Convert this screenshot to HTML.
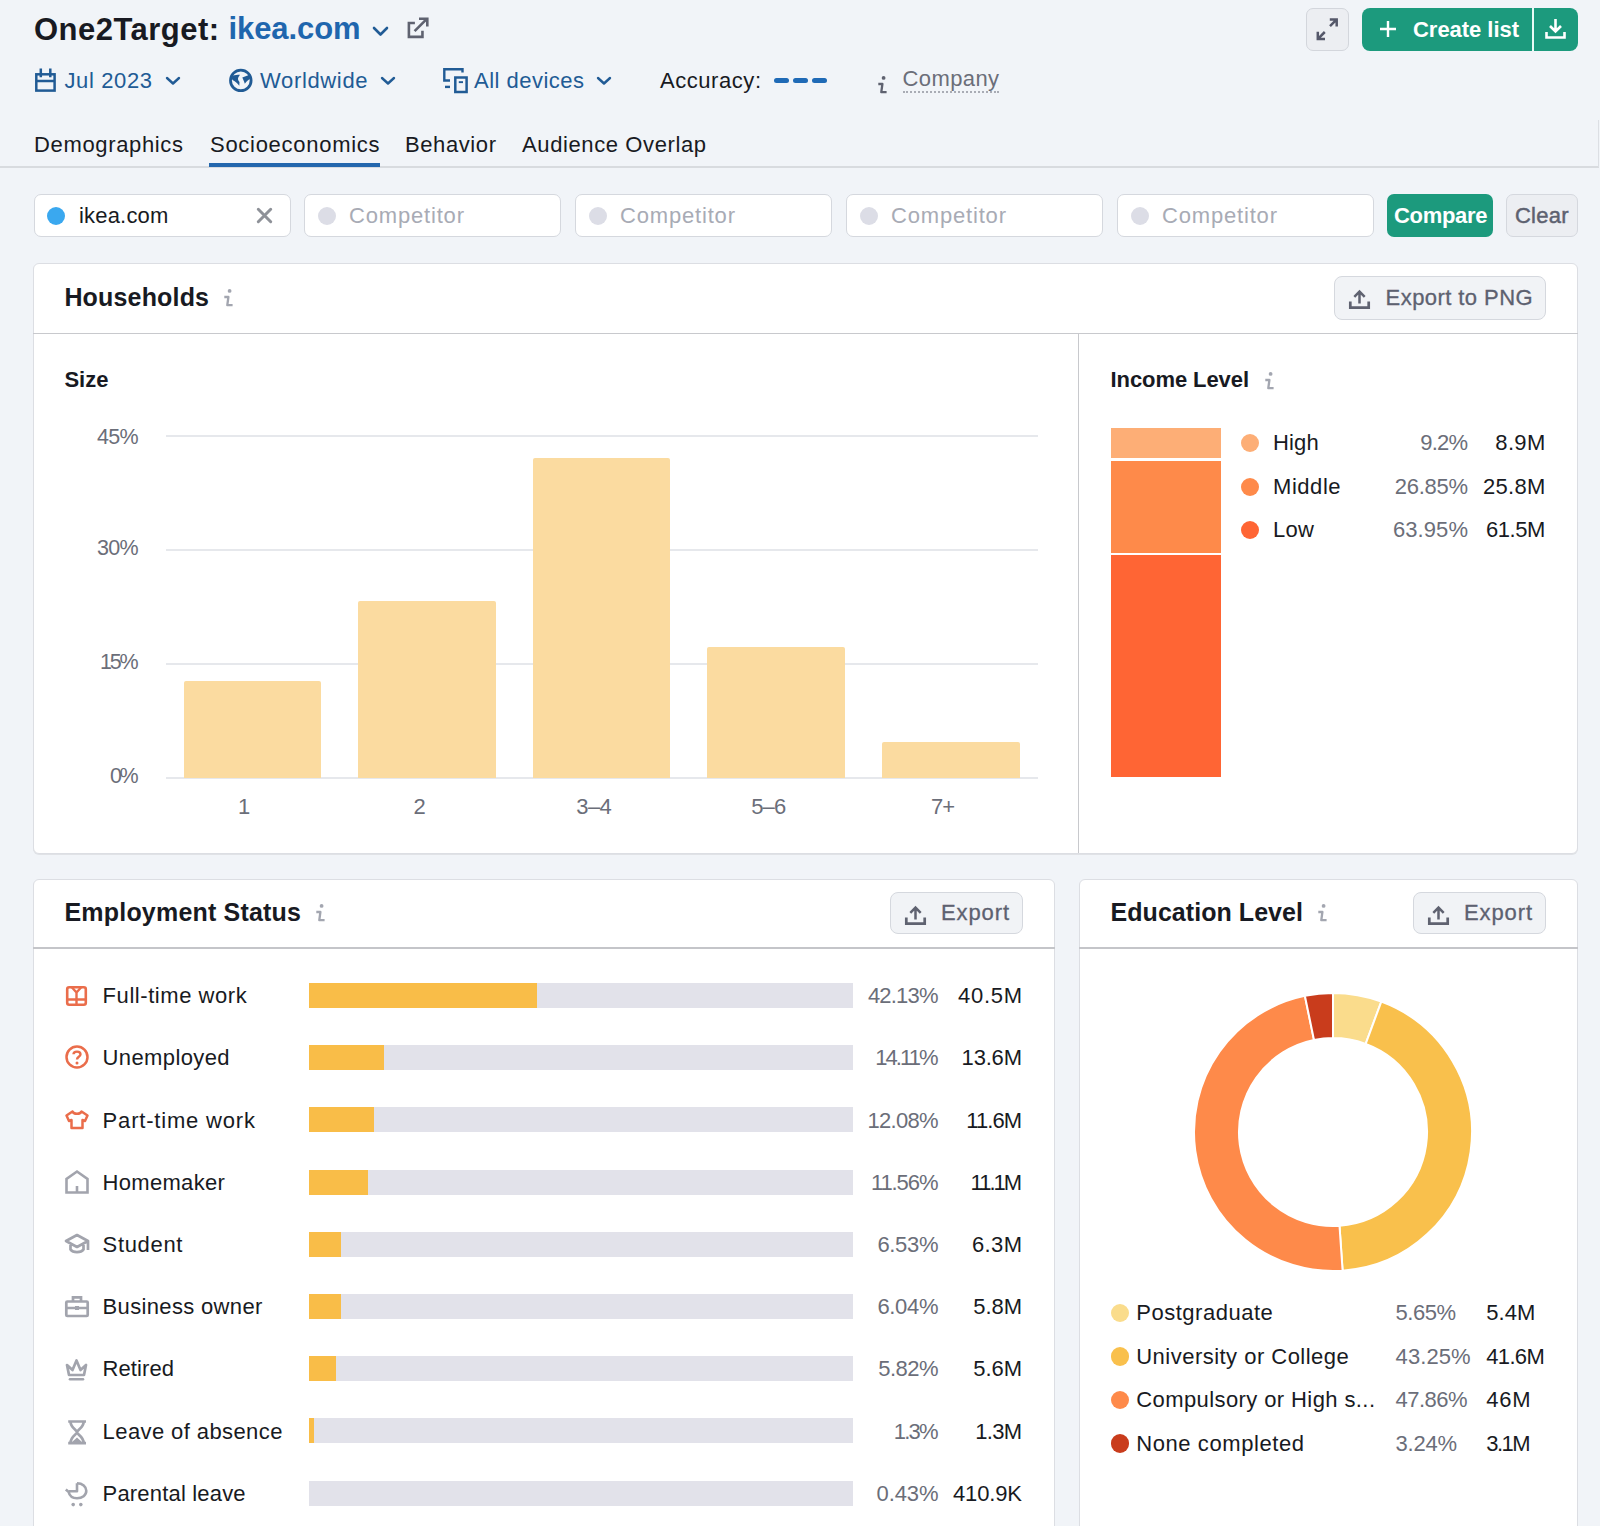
<!DOCTYPE html>
<html><head><meta charset="utf-8"><style>
html,body{margin:0;padding:0;}
body{width:1600px;height:1526px;overflow:hidden;background:#f1f4f8;position:relative;font-family:"Liberation Sans",sans-serif;}
.t{position:absolute;white-space:nowrap;line-height:1;}
.a{position:absolute;box-sizing:border-box;}
svg.a{overflow:visible;}
</style></head><body>
<div class="t" style="left:34.00px;top:13.75px;font-size:31px;color:#181a22;font-weight:700;letter-spacing:0.470px;">One2Target:</div>
<div class="t" style="left:228.50px;top:13.25px;font-size:31px;color:#1f66ae;font-weight:700;letter-spacing:-0.083px;">ikea.com</div>
<svg class="a" style="left:372px;top:26px;" width="17" height="11" viewBox="0 0 17 11"><path d="M2 2 L8.5 8.5 L15 2" fill="none" stroke="#215b95" stroke-width="2.6" stroke-linecap="round" stroke-linejoin="round"/></svg>
<svg class="a" style="left:407px;top:16px;" width="22" height="23" viewBox="0 0 22 23"><path d="M7.9 7 H1.9 V20.85 H15.45 V14.8" fill="none" stroke="#5f6270" stroke-width="2.6"/><path d="M7.6 15.2 L19.6 3.2 M12 2.7 H20.3 V10.6" fill="none" stroke="#5f6270" stroke-width="2.6"/></svg>
<div class="a" style="left:1306px;top:8px;width:43px;height:43px;border:1px solid #d3d6dc;border-radius:7px;background:#eceef2;"></div>
<svg class="a" style="left:1316px;top:18px;" width="23" height="23" viewBox="0 0 23 23"><path d="M14 8.2 L20.5 1.7 M13.8 1.5 H20.7 V8.5 M8.8 14 L2 20.8 M1.8 13.8 V21 H9" fill="none" stroke="#55586a" stroke-width="2.5"/></svg>
<div class="a" style="left:1362px;top:8px;width:216px;height:43px;border-radius:8px;background:#1c9a7d;"></div>
<div class="a" style="left:1532px;top:8px;width:2px;height:43px;background:#e8fbf5;"></div>
<svg class="a" style="left:1379px;top:20px;" width="18" height="18" viewBox="0 0 18 18"><path d="M9 1 V17 M1 9 H17" stroke="#fff" stroke-width="2.4"/></svg>
<div class="t" style="left:1413.00px;top:18.87px;font-size:22px;color:#ffffff;font-weight:700;letter-spacing:-0.037px;">Create list</div>
<svg class="a" style="left:1544px;top:17px;" width="23" height="23" viewBox="0 0 23 23"><path d="M11.5 2 V14 M6 9 L11.5 14.5 L17 9" fill="none" stroke="#fff" stroke-width="2.6"/><path d="M2.5 15 V20.5 H20.5 V15" fill="none" stroke="#fff" stroke-width="2.6"/></svg>
<svg class="a" style="left:34px;top:68px;" width="23" height="24" viewBox="0 0 23 24"><rect x="2.3" y="6.3" width="18.3" height="16.3" fill="none" stroke="#215b95" stroke-width="2.5"/><path d="M2.3 13 H20.6 M6.8 0.5 V9.3 M16.3 0.5 V9.3" stroke="#215b95" stroke-width="2.5"/></svg>
<div class="t" style="left:64.50px;top:70.17px;font-size:22px;color:#215b95;letter-spacing:0.617px;">Jul 2023</div>
<svg class="a" style="left:165px;top:76px;" width="16" height="9" viewBox="0 0 16 9"><path d="M2 2 L8 7.5 L14 2" fill="none" stroke="#215b95" stroke-width="2.4" stroke-linecap="round" stroke-linejoin="round"/></svg>
<svg class="a" style="left:229px;top:68px;" width="24" height="25" viewBox="0 0 24 25"><circle cx="11.8" cy="12.4" r="10.3" fill="none" stroke="#215b95" stroke-width="2.8"/><path d="M2 8.5 C4.5 7 8 6.3 11 6.8 L9.5 9 C8.5 10.5 9 12.5 10.5 14 L10.3 17.8 C8 15 6 13 3.5 12 Z" fill="#215b95"/><path d="M13.3 9.5 L21.2 6.5 L21.8 10 C20 12 17.5 13 15.8 15.8 C15 13 14 11 13.3 9.5 Z" fill="#215b95"/></svg>
<div class="t" style="left:260.00px;top:70.17px;font-size:22px;color:#215b95;letter-spacing:0.650px;">Worldwide</div>
<svg class="a" style="left:380px;top:76px;" width="16" height="9" viewBox="0 0 16 9"><path d="M2 2 L8 7.5 L14 2" fill="none" stroke="#215b95" stroke-width="2.4" stroke-linecap="round" stroke-linejoin="round"/></svg>
<svg class="a" style="left:443px;top:68px;" width="26" height="26" viewBox="0 0 26 26"><path d="M19.5 4.5 V1.3 H1.3 V12.5 H7" fill="none" stroke="#215b95" stroke-width="2.4"/><rect x="2" y="17.7" width="5" height="2.4" fill="#215b95"/><rect x="12.3" y="9.5" width="11.3" height="14.5" fill="none" stroke="#215b95" stroke-width="2.5"/><rect x="15.8" y="13.2" width="4.2" height="1.9" fill="#215b95"/></svg>
<div class="t" style="left:474.00px;top:70.17px;font-size:22px;color:#215b95;letter-spacing:0.484px;">All devices</div>
<svg class="a" style="left:596px;top:76px;" width="16" height="9" viewBox="0 0 16 9"><path d="M2 2 L8 7.5 L14 2" fill="none" stroke="#215b95" stroke-width="2.4" stroke-linecap="round" stroke-linejoin="round"/></svg>
<div class="t" style="left:660.00px;top:70.17px;font-size:22px;color:#181a22;letter-spacing:0.553px;">Accuracy:</div>
<div class="a" style="left:774px;top:78px;width:15px;height:5px;background:#1f6ab6;border-radius:2.5px;"></div>
<div class="a" style="left:793px;top:78px;width:15px;height:5px;background:#1f6ab6;border-radius:2.5px;"></div>
<div class="a" style="left:812px;top:78px;width:15px;height:5px;background:#1f6ab6;border-radius:2.5px;"></div>
<svg class="a" style="left:878px;top:76px;" width="10" height="19" viewBox="0 0 10 19"><g transform="scale(1.0)"><circle cx="5.6" cy="1.9" r="1.9" fill="#5f6270"/><path d="M0.3 8 H4.4 L3.3 16.2 H8.6" fill="none" stroke="#5f6270" stroke-width="2.3" stroke-linejoin="round"/></g></svg>
<div class="t" style="left:902.60px;top:67.87px;font-size:22px;color:#6b6e79;letter-spacing:0.373px;">Company</div>
<div class="a" style="left:903px;top:91px;width:96px;height:0;border-top:2px dotted #a9acb5;"></div>
<div class="t" style="left:34.00px;top:133.87px;font-size:22px;color:#181a22;letter-spacing:0.651px;">Demographics</div>
<div class="t" style="left:210.00px;top:133.87px;font-size:22px;color:#181a22;letter-spacing:0.717px;">Socioeconomics</div>
<div class="t" style="left:405.00px;top:133.87px;font-size:22px;color:#181a22;letter-spacing:0.595px;">Behavior</div>
<div class="t" style="left:522.00px;top:133.87px;font-size:22px;color:#181a22;letter-spacing:0.608px;">Audience Overlap</div>
<div class="a" style="left:0;top:166px;width:1599px;height:2px;background:#d8dbdf;"></div>
<div class="a" style="left:1598px;top:120px;width:1px;height:47px;background:#dcdfe4;"></div>
<div class="a" style="left:209px;top:163px;width:171px;height:4px;background:#2467ad;"></div>
<div class="a" style="left:34px;top:194px;width:257px;height:43px;border:1px solid #d5d8de;border-radius:7px;background:#fff;"></div>
<div class="a" style="left:47px;top:206.5px;width:18px;height:18px;border-radius:50%;background:#3aa8ef;"></div>
<div class="t" style="left:79.00px;top:204.87px;font-size:22px;color:#181a22;letter-spacing:0.183px;">ikea.com</div>
<svg class="a" style="left:256px;top:207px;" width="17" height="17" viewBox="0 0 17 17"><path d="M2.3 2.3 L14.7 14.7 M14.7 2.3 L2.3 14.7" stroke="#8e9198" stroke-width="3" stroke-linecap="round"/></svg>
<div class="a" style="left:304px;top:194px;width:257px;height:43px;border:1px solid #d5d8de;border-radius:7px;background:#fff;"></div>
<div class="a" style="left:318px;top:206.5px;width:18px;height:18px;border-radius:50%;background:#dcdde6;"></div>
<div class="t" style="left:349.00px;top:204.87px;font-size:22px;color:#a8abb5;letter-spacing:0.822px;">Competitor</div>
<div class="a" style="left:575px;top:194px;width:257px;height:43px;border:1px solid #d5d8de;border-radius:7px;background:#fff;"></div>
<div class="a" style="left:589px;top:206.5px;width:18px;height:18px;border-radius:50%;background:#dcdde6;"></div>
<div class="t" style="left:620.00px;top:204.87px;font-size:22px;color:#a8abb5;letter-spacing:0.822px;">Competitor</div>
<div class="a" style="left:846px;top:194px;width:257px;height:43px;border:1px solid #d5d8de;border-radius:7px;background:#fff;"></div>
<div class="a" style="left:860px;top:206.5px;width:18px;height:18px;border-radius:50%;background:#dcdde6;"></div>
<div class="t" style="left:891.00px;top:204.87px;font-size:22px;color:#a8abb5;letter-spacing:0.822px;">Competitor</div>
<div class="a" style="left:1117px;top:194px;width:257px;height:43px;border:1px solid #d5d8de;border-radius:7px;background:#fff;"></div>
<div class="a" style="left:1131px;top:206.5px;width:18px;height:18px;border-radius:50%;background:#dcdde6;"></div>
<div class="t" style="left:1162.00px;top:204.87px;font-size:22px;color:#a8abb5;letter-spacing:0.822px;">Competitor</div>
<div class="a" style="left:1387px;top:194px;width:106px;height:43px;border-radius:7px;background:#1c9a7d;"></div>
<div class="t" style="left:1394.00px;top:204.87px;font-size:22px;color:#ffffff;font-weight:700;letter-spacing:-0.308px;">Compare</div>
<div class="a" style="left:1506px;top:194px;width:72px;height:43px;border:1px solid #d5d8de;border-radius:7px;background:#eceef2;"></div>
<div class="t" style="left:1515.00px;top:204.87px;font-size:22px;color:#5d6170;letter-spacing:0.230px;-webkit-text-stroke:0.45px #5d6170;">Clear</div>
<div class="a" style="left:33px;top:263px;width:1545px;height:591px;border:1px solid #dcdee3;border-radius:6px;background:#fff;box-shadow:0 1px 0 rgba(0,0,0,0.07);"></div>
<div class="a" style="left:33px;top:332.75px;width:1545px;height:1.5px;background:#c8c9cd;"></div>
<div class="a" style="left:1077.75px;top:334px;width:1.5px;height:519px;background:#c8c9cd;"></div>
<div class="t" style="left:64.40px;top:284.83px;font-size:25px;color:#181a22;font-weight:700;letter-spacing:0.169px;">Households</div>
<svg class="a" style="left:224px;top:289px;" width="10" height="19" viewBox="0 0 10 19"><g transform="scale(1.0)"><circle cx="5.6" cy="1.9" r="1.9" fill="#a3a6b0"/><path d="M0.3 8 H4.4 L3.3 16.2 H8.6" fill="none" stroke="#a3a6b0" stroke-width="2.3" stroke-linejoin="round"/></g></svg>
<div class="a" style="left:1334px;top:276px;width:212px;height:44px;border:1px solid #d5d8de;border-radius:8px;background:#f1f3f6;"></div>
<svg class="a" style="left:1348px;top:288px;" width="23" height="22" viewBox="0 0 23 22"><path d="M11.5 15.5 V3.5 M6.3 8.8 L11.5 3.6 L16.7 8.8" fill="none" stroke="#5f6270" stroke-width="2.5"/><path d="M2.3 13.5 V19.6 H20.7 V13.5" fill="none" stroke="#5f6270" stroke-width="2.7"/></svg>
<div class="t" style="left:1385.60px;top:286.87px;font-size:22px;color:#5d6170;letter-spacing:0.430px;-webkit-text-stroke:0.3px #5d6170;">Export to PNG</div>
<div class="t" style="left:64.40px;top:369.37px;font-size:22px;color:#181a22;font-weight:700;letter-spacing:0.026px;">Size</div>
<div class="a" style="left:166px;top:435px;width:872px;height:2px;background:#e6e8ec;"></div>
<div class="t" style="left:97.00px;top:426.80px;font-size:21.5px;color:#6b6e79;letter-spacing:-0.761px;">45%</div>
<div class="a" style="left:166px;top:549px;width:872px;height:2px;background:#e6e8ec;"></div>
<div class="t" style="left:97.00px;top:538.10px;font-size:21.5px;color:#6b6e79;letter-spacing:-0.761px;">30%</div>
<div class="a" style="left:166px;top:663px;width:872px;height:2px;background:#e6e8ec;"></div>
<div class="t" style="left:100.00px;top:652.30px;font-size:21.5px;color:#6b6e79;letter-spacing:-2.261px;">15%</div>
<div class="a" style="left:166px;top:777px;width:872px;height:2px;background:#e6e8ec;"></div>
<div class="t" style="left:110.00px;top:766.20px;font-size:21.5px;color:#6b6e79;letter-spacing:-2.567px;">0%</div>
<div class="a" style="left:183.6px;top:681px;width:137.5px;height:97px;background:#fbdba0;border-radius:2px 2px 0 0;"></div>
<div class="a" style="left:358.0px;top:600.5px;width:137.5px;height:177.5px;background:#fbdba0;border-radius:2px 2px 0 0;"></div>
<div class="a" style="left:532.7px;top:458px;width:137.5px;height:320px;background:#fbdba0;border-radius:2px 2px 0 0;"></div>
<div class="a" style="left:707.0px;top:647px;width:137.5px;height:131px;background:#fbdba0;border-radius:2px 2px 0 0;"></div>
<div class="a" style="left:882.0px;top:742px;width:137.5px;height:36px;background:#fbdba0;border-radius:2px 2px 0 0;"></div>
<div class="t" style="left:238.08px;top:795.77px;font-size:22px;color:#6b6e79;">1</div>
<div class="t" style="left:413.38px;top:795.77px;font-size:22px;color:#6b6e79;">2</div>
<div class="t" style="left:576.15px;top:795.77px;font-size:22px;color:#6b6e79;letter-spacing:-0.498px;">3–4</div>
<div class="t" style="left:751.20px;top:795.77px;font-size:22px;color:#6b6e79;letter-spacing:-0.848px;">5–6</div>
<div class="t" style="left:931.00px;top:795.77px;font-size:22px;color:#6b6e79;letter-spacing:-1.080px;">7+</div>
<div class="t" style="left:1110.60px;top:369.37px;font-size:22px;color:#181a22;font-weight:700;letter-spacing:-0.090px;">Income Level</div>
<svg class="a" style="left:1265px;top:372px;" width="10" height="19" viewBox="0 0 10 19"><g transform="scale(1.0)"><circle cx="5.6" cy="1.9" r="1.9" fill="#a3a6b0"/><path d="M0.3 8 H4.4 L3.3 16.2 H8.6" fill="none" stroke="#a3a6b0" stroke-width="2.3" stroke-linejoin="round"/></g></svg>
<div class="a" style="left:1111px;top:428px;width:110px;height:30px;background:#fdae76;"></div>
<div class="a" style="left:1111px;top:461px;width:110px;height:92px;background:#fe8a4a;"></div>
<div class="a" style="left:1111px;top:555px;width:110px;height:222px;background:#ff6534;"></div>
<div class="a" style="left:1241px;top:434.0px;width:18px;height:18px;border-radius:50%;background:#fdae76;"></div>
<div class="t" style="left:1273.00px;top:431.97px;font-size:22px;color:#181a22;letter-spacing:0.165px;">High</div>
<div class="t" style="left:1420.30px;top:431.97px;font-size:22px;color:#6b6e79;letter-spacing:-0.813px;">9.2%</div>
<div class="t" style="left:1495.30px;top:431.97px;font-size:22px;color:#181a22;letter-spacing:0.365px;">8.9M</div>
<div class="a" style="left:1241px;top:477.5px;width:18px;height:18px;border-radius:50%;background:#fe8a4a;"></div>
<div class="t" style="left:1273.00px;top:475.77px;font-size:22px;color:#181a22;letter-spacing:0.558px;">Middle</div>
<div class="t" style="left:1394.70px;top:475.77px;font-size:22px;color:#6b6e79;letter-spacing:-0.265px;">26.85%</div>
<div class="t" style="left:1483.00px;top:475.77px;font-size:22px;color:#181a22;letter-spacing:0.290px;">25.8M</div>
<div class="a" style="left:1241px;top:521.0px;width:18px;height:18px;border-radius:50%;background:#ff6534;"></div>
<div class="t" style="left:1273.00px;top:518.87px;font-size:22px;color:#181a22;letter-spacing:0.293px;">Low</div>
<div class="t" style="left:1393.00px;top:518.87px;font-size:22px;color:#6b6e79;letter-spacing:0.075px;">63.95%</div>
<div class="t" style="left:1486.00px;top:518.87px;font-size:22px;color:#181a22;letter-spacing:-0.460px;">61.5M</div>
<div class="a" style="left:33px;top:879px;width:1022px;height:700px;border:1px solid #dcdee3;border-radius:6px;background:#fff;box-shadow:0 1px 0 rgba(0,0,0,0.07);"></div>
<div class="a" style="left:33px;top:947px;width:1022px;height:2px;background:#c4c5c9;"></div>
<div class="t" style="left:64.50px;top:899.83px;font-size:25px;color:#181a22;font-weight:700;letter-spacing:0.195px;">Employment Status</div>
<svg class="a" style="left:316px;top:904px;" width="10" height="19" viewBox="0 0 10 19"><g transform="scale(1.0)"><circle cx="5.6" cy="1.9" r="1.9" fill="#a3a6b0"/><path d="M0.3 8 H4.4 L3.3 16.2 H8.6" fill="none" stroke="#a3a6b0" stroke-width="2.3" stroke-linejoin="round"/></g></svg>
<div class="a" style="left:890px;top:892px;width:133px;height:42px;border:1px solid #d5d8de;border-radius:8px;background:#f1f3f6;"></div>
<svg class="a" style="left:904px;top:904px;" width="23" height="22" viewBox="0 0 23 22"><path d="M11.5 15.5 V3.5 M6.3 8.8 L11.5 3.6 L16.7 8.8" fill="none" stroke="#5f6270" stroke-width="2.5"/><path d="M2.3 13.5 V19.6 H20.7 V13.5" fill="none" stroke="#5f6270" stroke-width="2.7"/></svg>
<div class="t" style="left:941.00px;top:902.37px;font-size:22px;color:#5d6170;letter-spacing:0.884px;-webkit-text-stroke:0.3px #5d6170;">Export</div>
<svg class="a" style="left:64.5px;top:984px;" width="24" height="24" viewBox="0 0 24 24"><rect x="2.2" y="3.2" width="18.6" height="17.6" rx="2" fill="none" stroke="#ea6d4b" stroke-width="2.6"/><path d="M6.8 3.2 L11.5 8.5 L16.2 3.2 M11.5 8.5 V20.8 M2.2 15.5 H20.8" fill="none" stroke="#ea6d4b" stroke-width="2.4"/></svg>
<div class="t" style="left:102.60px;top:985.17px;font-size:22px;color:#181a22;letter-spacing:0.558px;">Full-time work</div>
<div class="a" style="left:309px;top:982.9px;width:544px;height:25px;background:#e2e2ea;"></div>
<div class="a" style="left:309px;top:982.9px;width:228.0px;height:25px;background:#f9bd48;"></div>
<div class="t" style="left:867.90px;top:985.17px;font-size:22px;color:#6b6e79;letter-spacing:-0.805px;">42.13%</div>
<div class="t" style="left:958.10px;top:985.17px;font-size:22px;color:#181a22;letter-spacing:0.690px;">40.5M</div>
<svg class="a" style="left:64.5px;top:1045px;" width="24" height="24" viewBox="0 0 24 24"><circle cx="12" cy="12" r="10.5" fill="none" stroke="#ea6d4b" stroke-width="2.5"/><path d="M8.5 9.3 C8.5 5.7 15.5 5.7 15.5 9.3 C15.5 11.8 12 11.8 12 14.5" fill="none" stroke="#ea6d4b" stroke-width="2.4"/><circle cx="12" cy="18" r="1.5" fill="#ea6d4b"/></svg>
<div class="t" style="left:102.60px;top:1047.37px;font-size:22px;color:#181a22;letter-spacing:0.377px;">Unemployed</div>
<div class="a" style="left:309px;top:1045.1px;width:544px;height:25px;background:#e2e2ea;"></div>
<div class="a" style="left:309px;top:1045.1px;width:75.3px;height:25px;background:#f9bd48;"></div>
<div class="t" style="left:875.20px;top:1047.37px;font-size:22px;color:#6b6e79;letter-spacing:-1.935px;">14.11%</div>
<div class="t" style="left:961.60px;top:1047.37px;font-size:22px;color:#181a22;letter-spacing:-0.185px;">13.6M</div>
<svg class="a" style="left:64.5px;top:1110px;" width="24" height="24" viewBox="0 0 24 24"><path d="M7.5 1.5 L1.5 5.5 L4 11 L6.5 10 V18 H17.5 V10 L20 11 L22.5 5.5 L16.5 1.5 C15.5 4.5 8.5 4.5 7.5 1.5 Z" fill="none" stroke="#ea6d4b" stroke-width="2.5" stroke-linejoin="round"/></svg>
<div class="t" style="left:102.60px;top:1109.57px;font-size:22px;color:#181a22;letter-spacing:0.813px;">Part-time work</div>
<div class="a" style="left:309px;top:1107.3px;width:544px;height:25px;background:#e2e2ea;"></div>
<div class="a" style="left:309px;top:1107.3px;width:64.8px;height:25px;background:#f9bd48;"></div>
<div class="t" style="left:867.50px;top:1109.57px;font-size:22px;color:#6b6e79;letter-spacing:-0.725px;">12.08%</div>
<div class="t" style="left:966.30px;top:1109.57px;font-size:22px;color:#181a22;letter-spacing:-0.952px;">11.6M</div>
<svg class="a" style="left:64.5px;top:1170px;" width="24" height="24" viewBox="0 0 24 24"><path d="M1.5 22.5 V9 L12 1.5 L22.5 9 V22.5 Z M12 22.5 V16" fill="none" stroke="#a2a4ad" stroke-width="2.6"/></svg>
<div class="t" style="left:102.60px;top:1171.77px;font-size:22px;color:#181a22;letter-spacing:0.299px;">Homemaker</div>
<div class="a" style="left:309px;top:1169.5px;width:544px;height:25px;background:#e2e2ea;"></div>
<div class="a" style="left:309px;top:1169.5px;width:58.7px;height:25px;background:#f9bd48;"></div>
<div class="t" style="left:870.90px;top:1171.77px;font-size:22px;color:#6b6e79;letter-spacing:-1.075px;">11.56%</div>
<div class="t" style="left:970.60px;top:1171.77px;font-size:22px;color:#181a22;letter-spacing:-2.028px;">11.1M</div>
<svg class="a" style="left:64.5px;top:1233px;" width="24" height="24" viewBox="0 0 24 24"><path d="M12 2 L23 8 L12 14 L1 8 Z M5.5 10.5 V16.5 C8 20 16 20 18.5 16.5 V10.5 M23 8 V17" fill="none" stroke="#a2a4ad" stroke-width="2.7" stroke-linejoin="round"/></svg>
<div class="t" style="left:102.60px;top:1233.97px;font-size:22px;color:#181a22;letter-spacing:0.661px;">Student</div>
<div class="a" style="left:309px;top:1231.7px;width:544px;height:25px;background:#e2e2ea;"></div>
<div class="a" style="left:309px;top:1231.7px;width:31.8px;height:25px;background:#f9bd48;"></div>
<div class="t" style="left:877.40px;top:1233.97px;font-size:22px;color:#6b6e79;letter-spacing:-0.317px;">6.53%</div>
<div class="t" style="left:971.90px;top:1233.97px;font-size:22px;color:#181a22;letter-spacing:0.398px;">6.3M</div>
<svg class="a" style="left:64.5px;top:1295px;" width="24" height="24" viewBox="0 0 24 24"><rect x="1.3" y="6.5" width="21.4" height="14.5" rx="1" fill="none" stroke="#a2a4ad" stroke-width="2.7"/><path d="M8 6.5 V2.3 H16 V6.5 M1.3 13 H22.7" fill="none" stroke="#a2a4ad" stroke-width="2.7"/><rect x="10" y="11" width="4" height="4" fill="#a2a4ad"/></svg>
<div class="t" style="left:102.60px;top:1296.17px;font-size:22px;color:#181a22;letter-spacing:0.339px;">Business owner</div>
<div class="a" style="left:309px;top:1293.9px;width:544px;height:25px;background:#e2e2ea;"></div>
<div class="a" style="left:309px;top:1293.9px;width:31.8px;height:25px;background:#f9bd48;"></div>
<div class="t" style="left:877.40px;top:1296.17px;font-size:22px;color:#6b6e79;letter-spacing:-0.317px;">6.04%</div>
<div class="t" style="left:973.20px;top:1296.17px;font-size:22px;color:#181a22;letter-spacing:-0.035px;">5.8M</div>
<svg class="a" style="left:64.5px;top:1358px;" width="24" height="24" viewBox="0 0 24 24"><path d="M2 7 L7.5 12 L11.5 2.5 L15.5 12 L21 7 L19 17 H4 Z" fill="none" stroke="#a2a4ad" stroke-width="2.7" stroke-linejoin="round"/><path d="M5 21.3 H18" stroke="#a2a4ad" stroke-width="2.6" stroke-linecap="round"/></svg>
<div class="t" style="left:102.60px;top:1358.37px;font-size:22px;color:#181a22;letter-spacing:0.079px;">Retired</div>
<div class="a" style="left:309px;top:1356.1px;width:544px;height:25px;background:#e2e2ea;"></div>
<div class="a" style="left:309px;top:1356.1px;width:27.0px;height:25px;background:#f9bd48;"></div>
<div class="t" style="left:878.20px;top:1358.37px;font-size:22px;color:#6b6e79;letter-spacing:-0.518px;">5.82%</div>
<div class="t" style="left:973.20px;top:1358.37px;font-size:22px;color:#181a22;letter-spacing:-0.035px;">5.6M</div>
<svg class="a" style="left:64.5px;top:1419.5px;" width="24" height="24" viewBox="0 0 24 24"><path d="M3.2 1.5 H21 M3.2 23.2 H21 M5.5 1.5 C5.5 8 12 10 12 12.3 C12 14.5 5.5 16.5 5.5 23.2 M18.7 1.5 C18.7 8 12 10 12 12.3 C12 14.5 18.7 16.5 18.7 23.2" fill="none" stroke="#a2a4ad" stroke-width="2.7"/><path d="M6.5 22.5 L12 17.5 L17.5 22.5 Z" fill="#a2a4ad"/></svg>
<div class="t" style="left:102.60px;top:1420.57px;font-size:22px;color:#181a22;letter-spacing:0.407px;">Leave of absence</div>
<div class="a" style="left:309px;top:1418.3px;width:544px;height:25px;background:#e2e2ea;"></div>
<div class="a" style="left:309px;top:1418.3px;width:4.8px;height:25px;background:#f9bd48;"></div>
<div class="t" style="left:893.70px;top:1420.57px;font-size:22px;color:#6b6e79;letter-spacing:-1.779px;">1.3%</div>
<div class="t" style="left:975.30px;top:1420.57px;font-size:22px;color:#181a22;letter-spacing:-0.735px;">1.3M</div>
<svg class="a" style="left:64.5px;top:1481.5px;" width="24" height="24" viewBox="0 0 24 24"><path d="M12 1.2 C17.5 1.2 21.3 4.5 21.3 8.8 C21.3 13.3 17.3 16.3 12 16.3 C7.5 16.3 4.5 13.8 3.5 9.8 L0.8 7.5 M12 1.2 V9.3 H4" fill="none" stroke="#a2a4ad" stroke-width="2.6" stroke-linejoin="round"/><circle cx="8.2" cy="22.6" r="1.8" fill="#a2a4ad"/><circle cx="15.8" cy="22.6" r="1.8" fill="#a2a4ad"/></svg>
<div class="t" style="left:102.60px;top:1482.77px;font-size:22px;color:#181a22;letter-spacing:0.181px;">Parental leave</div>
<div class="a" style="left:309px;top:1480.5px;width:544px;height:25px;background:#e2e2ea;"></div>
<div class="t" style="left:876.50px;top:1482.77px;font-size:22px;color:#6b6e79;letter-spacing:-0.092px;">0.43%</div>
<div class="t" style="left:953.00px;top:1482.77px;font-size:22px;color:#181a22;letter-spacing:-0.144px;">410.9K</div>
<div class="a" style="left:1078.5px;top:879px;width:499.5px;height:700px;border:1px solid #dcdee3;border-radius:6px;background:#fff;box-shadow:0 1px 0 rgba(0,0,0,0.07);"></div>
<div class="a" style="left:1079px;top:947px;width:499px;height:2px;background:#c4c5c9;"></div>
<div class="t" style="left:1110.50px;top:899.83px;font-size:25px;color:#181a22;font-weight:700;letter-spacing:0.055px;">Education Level</div>
<svg class="a" style="left:1318px;top:904px;" width="10" height="19" viewBox="0 0 10 19"><g transform="scale(1.0)"><circle cx="5.6" cy="1.9" r="1.9" fill="#a3a6b0"/><path d="M0.3 8 H4.4 L3.3 16.2 H8.6" fill="none" stroke="#a3a6b0" stroke-width="2.3" stroke-linejoin="round"/></g></svg>
<div class="a" style="left:1413px;top:892px;width:133px;height:42px;border:1px solid #d5d8de;border-radius:8px;background:#f1f3f6;"></div>
<svg class="a" style="left:1427px;top:904px;" width="23" height="22" viewBox="0 0 23 22"><path d="M11.5 15.5 V3.5 M6.3 8.8 L11.5 3.6 L16.7 8.8" fill="none" stroke="#5f6270" stroke-width="2.5"/><path d="M2.3 13.5 V19.6 H20.7 V13.5" fill="none" stroke="#5f6270" stroke-width="2.7"/></svg>
<div class="t" style="left:1464.00px;top:902.37px;font-size:22px;color:#5d6170;letter-spacing:0.884px;-webkit-text-stroke:0.3px #5d6170;">Export</div>
<svg class="a" style="left:1194.3px;top:993.3px;" width="278" height="278" viewBox="0 0 278 278"><path d="M139.00 0.00 A139 139 0 0 1 187.32 8.67 L171.67 50.86 A94 94 0 0 0 139.00 45.00 Z" fill="#fadc8c" stroke="#fff" stroke-width="2"/><path d="M187.32 8.67 A139 139 0 0 1 148.60 277.67 L145.49 232.78 A94 94 0 0 0 171.67 50.86 Z" fill="#f9c04c" stroke="#fff" stroke-width="2"/><path d="M148.60 277.67 A139 139 0 0 1 110.90 2.87 L120.00 46.94 A94 94 0 0 0 145.49 232.78 Z" fill="#fe8a4a" stroke="#fff" stroke-width="2"/><path d="M110.90 2.87 A139 139 0 0 1 139.00 0.00 L139.00 45.00 A94 94 0 0 0 120.00 46.94 Z" fill="#c93c1c" stroke="#fff" stroke-width="2"/></svg>
<div class="a" style="left:1110.5px;top:1303.5px;width:18.6px;height:18.6px;border-radius:50%;background:#fadc8c;"></div>
<div class="t" style="left:1136.25px;top:1301.97px;font-size:22px;color:#181a22;letter-spacing:0.516px;">Postgraduate</div>
<div class="t" style="left:1395.60px;top:1301.97px;font-size:22px;color:#6b6e79;letter-spacing:-0.492px;">5.65%</div>
<div class="t" style="left:1486.25px;top:1301.97px;font-size:22px;color:#181a22;letter-spacing:0.048px;">5.4M</div>
<div class="a" style="left:1110.5px;top:1347.1px;width:18.6px;height:18.6px;border-radius:50%;background:#f9c04c;"></div>
<div class="t" style="left:1136.25px;top:1345.77px;font-size:22px;color:#181a22;letter-spacing:0.476px;">University or College</div>
<div class="t" style="left:1395.60px;top:1345.77px;font-size:22px;color:#6b6e79;letter-spacing:0.075px;">43.25%</div>
<div class="t" style="left:1486.25px;top:1345.77px;font-size:22px;color:#181a22;letter-spacing:-0.672px;">41.6M</div>
<div class="a" style="left:1110.5px;top:1390.7px;width:18.6px;height:18.6px;border-radius:50%;background:#fe8a4a;"></div>
<div class="t" style="left:1136.25px;top:1389.37px;font-size:22px;color:#181a22;letter-spacing:0.404px;">Compulsory or High s...</div>
<div class="t" style="left:1395.60px;top:1389.37px;font-size:22px;color:#6b6e79;letter-spacing:-0.545px;">47.86%</div>
<div class="t" style="left:1486.25px;top:1389.37px;font-size:22px;color:#181a22;letter-spacing:0.780px;">46M</div>
<div class="a" style="left:1110.5px;top:1434.3px;width:18.6px;height:18.6px;border-radius:50%;background:#c93c1c;"></div>
<div class="t" style="left:1136.25px;top:1433.27px;font-size:22px;color:#181a22;letter-spacing:0.580px;">None completed</div>
<div class="t" style="left:1395.60px;top:1433.27px;font-size:22px;color:#6b6e79;letter-spacing:-0.242px;">3.24%</div>
<div class="t" style="left:1486.25px;top:1433.27px;font-size:22px;color:#181a22;letter-spacing:-1.519px;">3.1M</div>
</body></html>
